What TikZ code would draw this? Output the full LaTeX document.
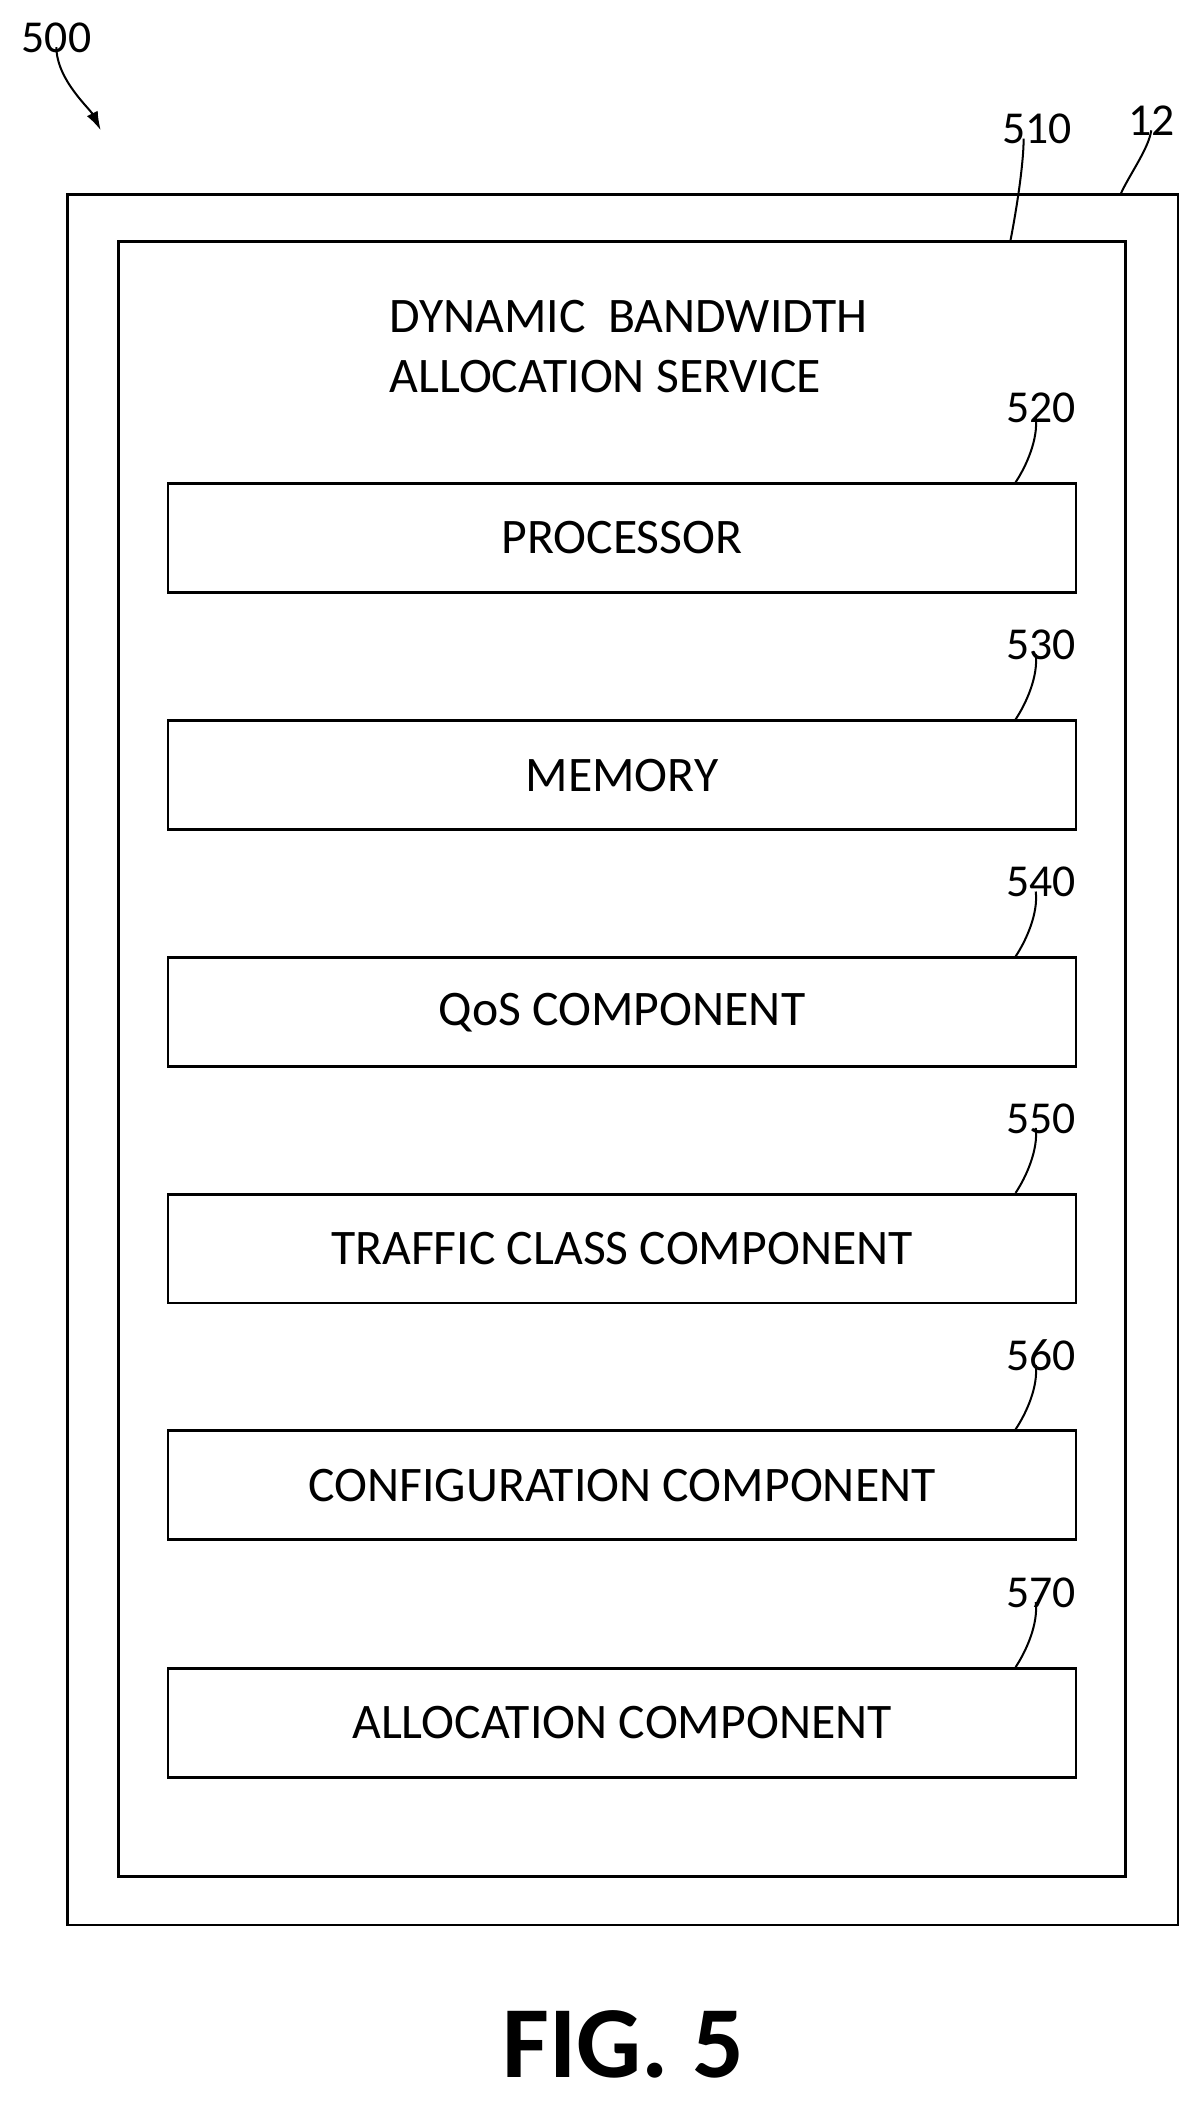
\documentclass[tikz,border=0pt]{standalone}
\usepackage{fontspec}
\setmainfont{Carlito}
\usetikzlibrary{arrows.meta}
\begin{document}
\begin{tikzpicture}[x=1pt,y=-1pt,line width=2pt,
  comp/.style={draw,minimum width=676pt,minimum height=81pt,inner sep=0pt,font=\fontsize{37}{42}\selectfont},
  lbl/.style={font=\fontsize{34}{38}\selectfont,inner sep=0pt},
  lead/.style={line width=1.5pt}]
\useasboundingbox (0,0) rectangle (890,1564);
\draw (50,145) rectangle (877,1433);
\draw (88,180) rectangle (838,1397);
\node[font=\fontsize{37}{44}\selectfont,inner sep=0pt,align=left] (title) at (468,258) {DYNAMIC\ \ BANDWIDTH\\ALLOCATION SERVICE};
\foreach \n/\t/\y in {520/PROCESSOR/400.5,530/MEMORY/577,540/QoS COMPONENT/753.5,550/TRAFFIC CLASS COMPONENT/929.5,560/CONFIGURATION COMPONENT/1105.5,570/ALLOCATION COMPONENT/1282.5}{
  \node[comp] (b\n) at (463,\y) {\t};
  \node[lbl] (l\n) at (775,\y-97) {\n};
  \draw[lead] ([xshift=-4pt,yshift=5pt]l\n.south) .. controls +(2,16) and +(8,-12) .. ([xshift=-46pt]b\n.north east);
}
\node[lbl] (l510) at (772,96) {510};
\coordinate (c510) at (752,180);
\draw[lead] ([xshift=-10pt,yshift=5pt]l510.south) .. controls +(0,20) and +(4,-20) .. (c510);
\node[lbl] (l12) at (857,90) {12};
\coordinate (c12) at (834,145);
\draw[lead] ([yshift=5pt]l12.south) .. controls +(-2,14) and +(6,-14) .. (c12);
\node[lbl] (l500) at (42,28) {500};
\coordinate (c500) at (75,97);
\draw[lead,-{Latex[length=14pt,width=9pt]}] ([yshift=5pt]l500.south) .. controls +(0,24) and +(-8,-16) .. (c500);
\node[font=\bfseries\fontsize{76}{80}\selectfont,inner sep=0pt] (fig) at (464,1522) {FIG. 5};
\end{tikzpicture}
\end{document}
